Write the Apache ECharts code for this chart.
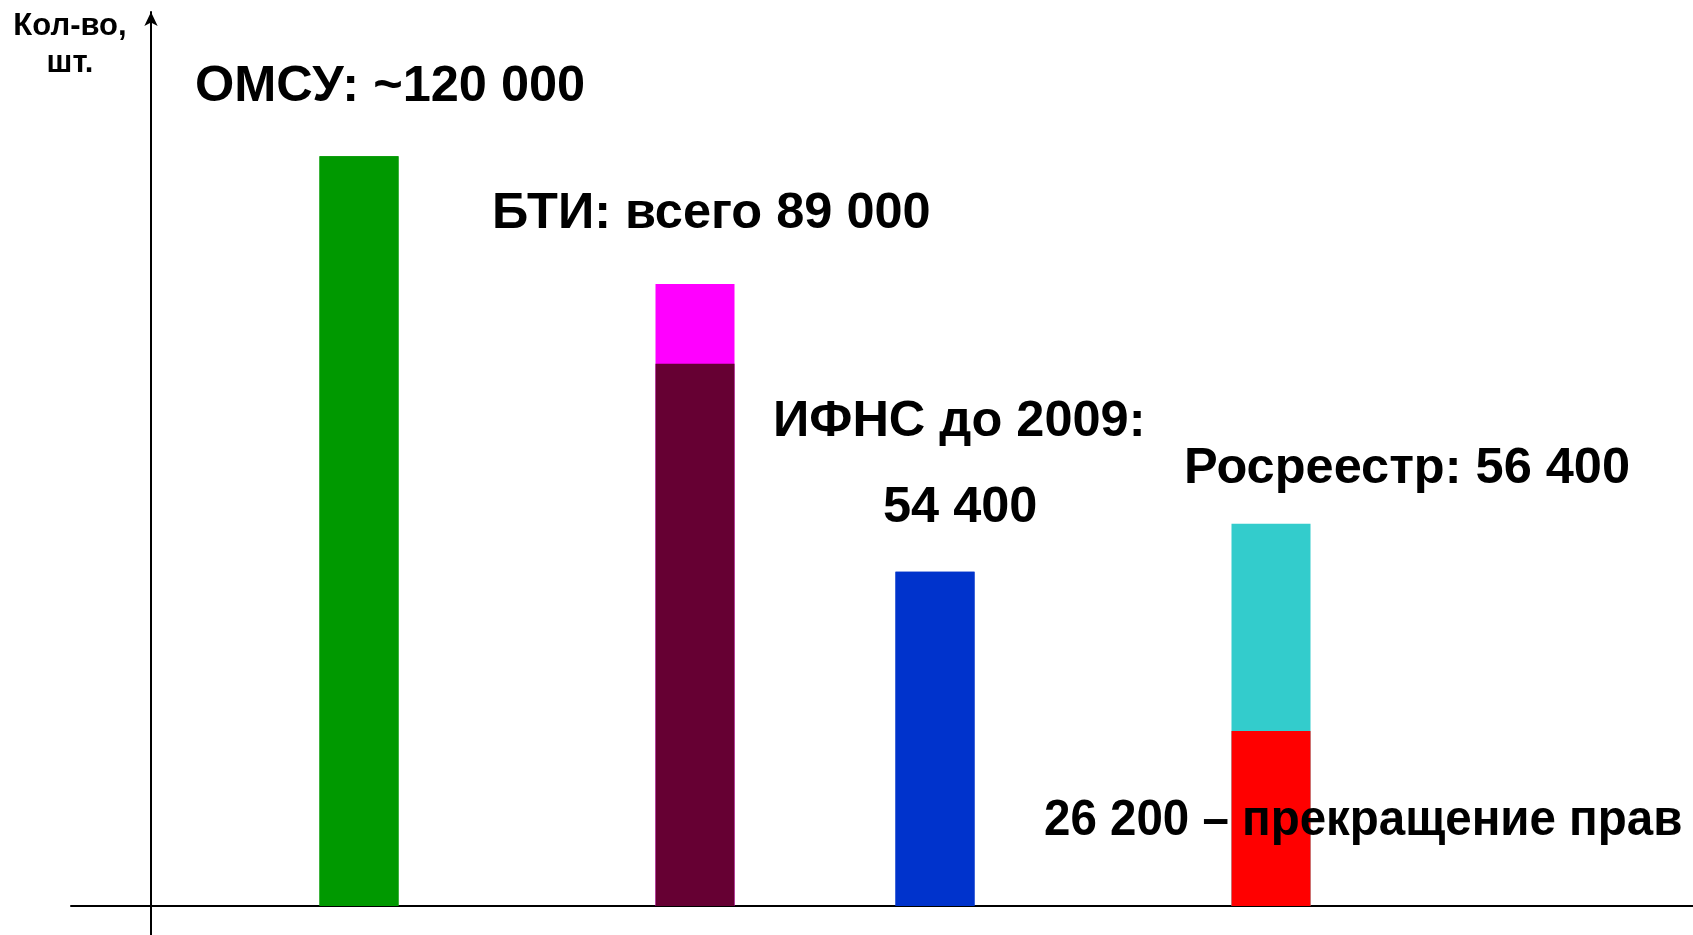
<!DOCTYPE html>
<html>
<head>
<meta charset="utf-8">
<title>Кол-во, шт.</title>
<script src="https://cdn.jsdelivr.net/npm/echarts@6/dist/echarts.min.js"></script>
<style>
  html, body { margin: 0; padding: 0; background: #ffffff; }
  #chart { width: 1693px; height: 935px; }
</style>
</head>
<body>
<div id="chart"></div>
<script>
// данные
var categories = ['ОМСУ', 'БТИ', 'ИФНС до 2009', 'Росреестр'];
var lowerValues = [120000, 86800, 53500, 28000];
var upperValues = [0, 12750, 0, 33200];
var lowerColors = ['#009900', '#660033', '#0033CC', '#FF0000'];
var upperColors = ['#009900', '#FF00FF', '#0033CC', '#33CCCC'];
var labelTexts = ['ОМСУ: ~120 000', 'БТИ: всего 89 000', 'ИФНС до 2009:', '54 400', 'Росреестр: 56 400', '26 200 – прекращение прав'];
var axisName = 'Кол-во,\nшт.';

var chartDom = document.getElementById('chart');
var myChart = echarts.init(chartDom, null, { renderer: 'canvas' });

// столбцы стоят неравномерно, шаг сетки по x — 16px
var columnSlot = [13, 34, 49, 70];

// верхняя часть рисуется как полный столбец позади нижней
var lowerData = [];
var totalData = [];
for (var i = 0; i < categories.length; i++) {
  lowerData.push({ value: [columnSlot[i], lowerValues[i]], name: categories[i], itemStyle: { color: lowerColors[i] } });
  totalData.push({ value: [columnSlot[i], lowerValues[i] + upperValues[i]], name: categories[i], itemStyle: { color: upperColors[i] } });
}

var fontFamily = '"Liberation Sans", Arial, sans-serif';
var bigFont = 'bold 50.5px ' + fontFamily;

// подписи: [x, y середины строки, сжатие по ширине]
var labelPos = [[195, 87, 1], [492, 214, 1], [773, 422, 1], [883, 508, 1], [1184, 469, 1], [1044, 821, 0.94]];
var graphics = [];
for (var j = 0; j < labelTexts.length; j++) {
  graphics.push({
    type: 'text',
    x: labelPos[j][0],
    y: labelPos[j][1],
    scaleX: labelPos[j][2],
    z: 100,
    style: {
      text: labelTexts[j],
      font: bigFont,
      fill: '#000000',
      align: 'left',
      verticalAlign: 'middle'
    }
  });
}
graphics.push({
  type: 'text',
  x: 70,
  y: 45,
  z: 100,
  style: {
    text: axisName,
    font: 'bold 31px ' + fontFamily,
    lineHeight: 37,
    fill: '#000000',
    align: 'center',
    verticalAlign: 'middle'
  }
});

var option = {
  backgroundColor: '#ffffff',
  animation: false,
  grid: {
    left: 71,
    right: 0,
    top: 12,
    bottom: 0
  },
  xAxis: {
    type: 'value',
    min: -5,
    max: 96.375,
    splitLine: { show: false },
    axisTick: { show: false },
    axisLabel: { show: false },
    axisLine: {
      show: true,
      onZero: true,
      lineStyle: { color: '#000000', width: 2 }
    }
  },
  yAxis: {
    type: 'value',
    min: -4650,
    max: 143100,
    splitLine: { show: false },
    axisTick: { show: false },
    axisLabel: { show: false },
    axisLine: {
      show: true,
      onZero: true,
      symbol: ['none', 'arrow'],
      symbolSize: [10, 14],
      lineStyle: { color: '#000000', width: 2 }
    }
  },
  series: [
    {
      name: 'всего',
      type: 'bar',
      barWidth: 79,
      barGap: '-100%',
      z: 1,
      data: totalData
    },
    {
      name: 'нижняя часть',
      type: 'bar',
      barWidth: 79,
      barGap: '-100%',
      z: 2,
      data: lowerData
    }
  ],
  graphic: graphics
};

if (option && typeof option == "object") {
  myChart.setOption(option, true);
}
</script>
</body>
</html>
